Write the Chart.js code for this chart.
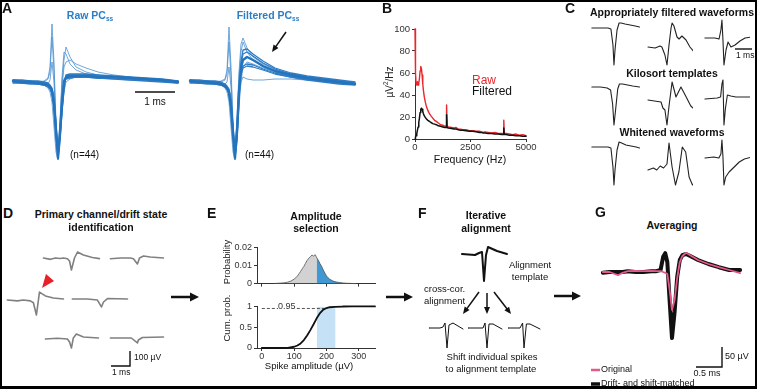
<!DOCTYPE html>
<html>
<head>
<meta charset="utf-8">
<script src="https://cdn.jsdelivr.net/npm/chart.js@4.4.1/dist/chart.umd.min.js"></script>
<style>
body { margin: 0; background: #fff; }
#fig { position: relative; width: 757px; height: 389px; overflow: hidden; background: #fff;
  font-family: "Liberation Sans", Arial, Helvetica, sans-serif; color: #111; }
#fig canvas { position: absolute; }
.t { position: absolute; white-space: nowrap; line-height: 1; }
#frame { position: absolute; left: 0; top: 0; width: 757px; height: 389px; box-sizing: border-box;
  border-style: solid; border-color: #000; border-width: 2px 2px 3px 2px; z-index: 10; }
#over { position: absolute; left: 0; top: 0; z-index: 5; }
</style>
</head>
<body>
<div id="fig">
  <svg id="over" width="757" height="389"></svg>
  <div id="frame"></div>
</div>
<script>
/* ======================================================================
DATA
====================================================================== */
// A: raw / filtered PC simple spikes (ms, amplitude in px-scaled units)
const aTime = [-1.125,-0.9,-0.7,-0.5,-0.35,-0.25,-0.2,-0.15,-0.1,-0.05,0,0.05,0.1,0.15,0.2,0.3,0.45,0.7,1.0,1.4,1.8,2.2,2.6,3.0];
const aRawMean = [1,0,0,-1,-2,-3,-5,-9,-22,-50,-76,-52,-22,0,5,6,6,6,5,5,4,3,2,0];
const aRawB1 = [2,1,1,0,-1,-2,-4,-7,-18,-45,-74,-55,-26,-3,6,7,7,7,6,5,4,3,2,1];
const aRawB2 = [0,-1,-1,-2,-3,-5,-7,-12,-27,-55,-73,-48,-18,1,3,4,5,5,4,4,3,2,1,-1];
const aRawB3 = [2,2,1,1,0,-1,-3,-6,-16,-40,-68,-56,-30,-8,7,8,8,8,7,6,5,4,3,1];
const aRawB4 = [-1,-1,-2,-2,-3,-4,-6,-11,-26,-53,-77,-50,-16,2,4,5,5,5,4,3,2,1,0,-1];
const aRaw1 = [1,0,0,0,1,4,15,58,20,-40,-70,-40,5,30,28,18,12,8,6,5,4,3,2,0];
const aRaw2 = [0,0,-1,-1,0,3,10,45,10,-45,-74,-48,0,22,35,25,15,10,7,5,4,3,1,0];
const aRaw3 = [2,1,0,0,-1,-2,2,20,0,-50,-66,-40,-5,15,20,22,18,14,10,7,5,3,2,1];
const aRaw4 = [0,-1,-1,-2,-3,-6,-10,-20,-45,-70,-78,-60,-30,-10,0,3,5,5,4,3,2,2,1,0];
const aFiltMean = [1,0,0,-1,-2,-4,-6,-10,-25,-52,-76,-50,-10,14,22,25,22,16,11,7,4,2,0,-2];
const aFiltB1 = [2,1,1,0,-1,-3,-5,-8,-20,-48,-74,-55,-15,18,28,30,26,19,13,8,5,3,1,-1];
const aFiltB2 = [0,-1,-1,-2,-3,-5,-7,-12,-28,-55,-73,-46,-8,10,16,18,17,13,9,5,3,1,-1,-2];
const aFiltB3 = [2,2,1,1,0,-2,-4,-7,-18,-44,-70,-56,-18,20,32,33,28,21,14,9,6,4,2,0];
const aFiltB4 = [-1,-1,-2,-2,-3,-5,-7,-12,-28,-56,-77,-48,-6,8,14,16,15,12,8,5,2,0,-2,-3];
const aFilt1 = [1,0,0,0,1,3,12,55,15,-40,-70,-35,10,38,44,34,25,18,12,8,5,3,1,-1];
const aFilt2 = [0,0,-1,-1,0,2,8,40,5,-45,-72,-45,5,30,40,30,22,15,10,6,4,2,0,-2];
const aFilt3 = [2,1,0,0,-1,-2,0,15,-5,-50,-66,-40,-12,0,5,3,2,2,3,3,2,1,0,-1];
const aFilt4 = [0,-1,-1,-2,-3,-6,-10,-20,-45,-70,-78,-60,-25,0,15,20,18,14,10,6,3,1,-1,-2];

// B: power spectrum
const bFreq = [0,15,30,50,80,110,140,170,200,230,260,290,320,350,380,420,470,520,580,650,720,800,880,960,1050,1150,1250,1350,1400,1415,1430,1445,1500,1650,1750,1850,1950,2050,2150,2300,2450,2600,2750,2900,3000,3050,3150,3300,3450,3600,3750,3900,3980,4000,4020,4100,4250,4400,4550,4700,4850,5000];
const bRaw  = [100,98,60,50,49,52,49,51,55,62,66,64,58,50,44,38,33,29,26,23,21,19,17,16,14.5,13,12.5,11.5,12,12,31,12,11,10.5,10,10.5,9,9,8.5,8.5,7.5,7.5,7,7,6.5,6,6.5,6,5.5,6,5,5,5,17,5,5,4.5,4,4.5,3.5,4,3];
const bFilt = [0,1,2,3,5,8,11,15,19,24,27,28,27,25,23,21,19.5,18,17,16,15,14,13.5,13,12,11.5,11,10.5,10.5,10.5,22,10.5,10,9.5,9,9,8.5,8,8,7.5,7,7,6.5,6,6,5.5,5.5,5,5,4.5,4.5,4,4,10,4,4,3.5,3.5,3,3,2.5,2.5];
const bXTicks = [0, 2500, 5000];
const bYTicks = [0, 20, 40, 60, 80, 100];

// C: example waveforms (ms, arbitrary units)
const c1t = [-1.3,-0.8,-0.35,-0.18,-0.06,0,0.06,0.18,0.3,0.42,0.65,0.95,1.25,1.5];
const c1v = [15,15,15,14,-2,-22,-7,13,20,20,19,18,17,16];
const c2t = [-1.12,-0.7,-0.41,-0.3,-0.12,0,0.12,0.24,0.3,0.41,0.59,0.71,0.88,1.12,1.35,1.65];
const c2v = [-4,-5,-3,-4,-12,-22,-2,15,20,17,6,4,7,3,-4,-10];
const c3t = [-1.12,-0.53,-0.29,-0.18,-0.12,-0.06,0,0.12,0.24,0.41,0.65,0.94,1.24,1.65];
const c3v = [5,5,4,13,23,3,-22,-7,1,-4,-2,2,5,6];
const c4t = [-1.3,-0.8,-0.4,-0.2,-0.08,0,0.1,0.22,0.32,0.5,0.8,1.1,1.5];
const c4v = [17,17,16,14,0,-21,-5,15,20,20,19,18,17];
const c5t = [-1.12,-0.35,-0.24,-0.12,0,0.12,0.3,0.53,0.82,1.1,1.4,1.65];
const c5v = [4,2,-4,-6,-21,-2,22,7,17,8,-2,-6];
const c6t = [-1.12,-0.4,-0.2,-0.12,-0.06,0,0.08,0.2,0.4,0.7,1.2,1.65];
const c6v = [5,6,7,20,24,-21,-5,9,8,7,7,7];
const c7t = [-1.3,-0.8,-0.35,-0.18,-0.06,0,0.06,0.18,0.3,0.45,0.7,1.0,1.3,1.5];
const c7v = [15,15,15,14,-5,-23,-8,12,20,19,17,16,15,14];
const c8t = [-1.12,-0.8,-0.6,-0.4,-0.2,0,0.12,0.3,0.5,0.7,0.9,1.1,1.3,1.5,1.65];
const c8v = [-8,-6,-8,-4,-6,-2,19,-5,-23,-10,15,10,-15,-23,-20];
const c9t = [-1.12,-0.6,-0.3,-0.18,-0.12,-0.06,0,0.1,0.3,0.6,0.9,1.2,1.65];
const c9v = [4,5,4,8,22,5,-23,-15,-10,-5,0,3,5];

// D: channel waveforms (ms, µV)
const dAt = [-1.47,-1.1,-0.84,-0.6,-0.42,-0.21,-0.1,0,0.16,0.32,0.63,1.1,1.47];
const dAv = [0,-9,0,-3,0,-5,-20,-80,0,40,20,3,-4];
const dBt = [-1.42,-0.89,-0.37,-0.21,0,0.11,0.32,0.68,1.37];
const dBv = [-5,0,0,-5,-40,0,13,7,0];
const dCt = [-1.53,-1.0,-0.68,-0.32,-0.16,0,0.16,0.47,0.89,1.42];
const dCv = [0,-6,0,-6,-18,-100,53,27,13,7];
const dDt = [-1.53,-0.74,-0.21,0,0.11,0.32,1.37];
const dDv = [0,0,-7,-53,-20,3,0];
const dEt = [-1.37,-0.74,-0.21,-0.1,0,0.1,0.26,0.63,1.42];
const dEv = [0,5,0,-20,-60,7,33,13,7];
const dFt = [-1.42,-0.32,0,0.05,0.26,1.37];
const dFv = [0,0,-33,-13,3,7];

// E: amplitude distribution
const eAmp  = [40,50,60,70,80,90,100,105,110,115,120,125,130,135,140,145,150,155,160,165,170,175,180,185,190,195,200,205,210,220,230,240,250,260,275,290];
const eProb = [0.0001,0.0002,0.0003,0.0005,0.0008,0.0014,0.0025,0.0032,0.0042,0.0055,0.0068,0.0082,0.0095,0.0112,0.0128,0.014,0.0148,0.0158,0.0152,0.016,0.0142,0.0128,0.011,0.0095,0.0075,0.0058,0.0042,0.0032,0.0024,0.0014,0.0009,0.0006,0.0004,0.0002,0.0001,0];
const eCdfAmp = [0,50,80,100,110,120,130,140,150,160,170,180,190,200,210,225,250,280,320,350];
const eCdf    = [0,0,0.005,0.03,0.06,0.11,0.19,0.3,0.43,0.57,0.72,0.84,0.92,0.96,0.98,0.99,0.997,1,1,1];
const eSel = [170, 228];
const eQuant = 0.95, eQuantAmp = 195;
const eXTicks = [0, 100, 200, 300];
const eProbTicks = [0, 0.01, 0.02];
const eCdfTicks = [0, 0.5, 1];

// F: alignment template and shifted spikes
const fTplT = [-1.1,-0.45,-0.25,-0.1,0,0.1,0.2,0.65,1.15];
const fTplV = [0,-1,1,2,-27,-1,7,3,0];
const fS1T = [-0.9,-0.35,-0.2,-0.1,0,0.1,0.3,0.8];
const fS1V = [0,0,1,5,-20,3,5,-1];
const fS2T = [-0.95,-0.2,-0.1,0,0.1,0.3,0.75];
const fS2V = [0,0,5,-20,4,4,-1];
const fS3T = [-0.8,-0.2,-0.07,0,0.12,0.3,0.8];
const fS3V = [0,0,5,-20,4,4,-1];

// G: averages (ms, µV)
const gTime  = [-1.33,-1.2,-1.1,-1.04,-0.95,-0.85,-0.7,-0.55,-0.4,-0.3,-0.22,-0.17,-0.13,-0.09,-0.05,0,0.05,0.1,0.15,0.2,0.27,0.35,0.5,0.7,0.9,1.1,1.31];
const gDrift = [-2,0,0,0,0,2,0,0,2,2,5,38,47,25,-62,-165,-100,-12,30,42,45,40,30,20,12,5,5];
const gOrig  = [0,0,-5,-8,-2,2,3,2,3,2,2,0,-2,-5,-40,-95,-70,-15,25,40,48,42,30,20,12,5,-3];

// scale bars
const aBarMs = 1, cBarMs = 1, dBarMs = 1, dBarUv = 100, gBarMs = 0.5, gBarUv = 50;

/* ======================================================================
Helpers
====================================================================== */
const FONT = '"Liberation Sans", Arial, Helvetica, sans-serif';
const fig = document.getElementById('fig');
const svg = document.getElementById('over');
const BLUE = '#2474bd', BLUE_M = '#2f7cc3', BLUE_T = '#4b90d2', RED = '#e8262b', PINK = '#e4588c';

function addCanvas(left, top, w, h) {
  const c = document.createElement('canvas');
  c.width = w; c.height = h;
  c.style.left = left + 'px'; c.style.top = top + 'px';
  c.style.width = w + 'px'; c.style.height = h + 'px';
  fig.insertBefore(c, svg);
  return c;
}
function pts(xs, ys) { return xs.map((x, i) => ({ x: x, y: ys[i] })); }
function trace(xs, ys, color, width) {
  return { data: pts(xs, ys), borderColor: color, borderWidth: width, pointRadius: 0,
    tension: 0, fill: false, clip: false, borderJoinStyle: 'round', borderCapStyle: 'round' };
}
const baseOpts = {
  responsive: false, animation: false, events: [],
  plugins: { legend: { display: false }, tooltip: { enabled: false } }
};
function waveChart(left, top, w, h, xr, yr, datasets) {
  const c = addCanvas(left, top, w, h);
  return new Chart(c, { type: 'line', data: { datasets: datasets },
    options: Object.assign({}, baseOpts, { layout: { padding: 0 },
      scales: { x: { type: 'linear', display: false, min: xr[0], max: xr[1] },
                y: { type: 'linear', display: false, min: yr[0], max: yr[1] } } }) });
}
// fixed-size axis for MATLAB-like panels
function axis(min, max, ticks, fitKey, fitVal, showLabels, size, pad) {
  return {
    type: 'linear', min: min, max: max,
    afterFit: s => { s[fitKey] = fitVal; },
    afterBuildTicks: s => { s.ticks = ticks.map(v => ({ value: v })); },
    ticks: { display: showLabels, font: { family: FONT, size: size }, color: '#333', padding: pad,
      maxRotation: 0, autoSkip: false, callback: v => String(v) },
    grid: { drawOnChartArea: false, drawTicks: true, tickLength: 3, color: '#333', lineWidth: 1 },
    border: { display: true, color: '#333', width: 1 }
  };
}
// L-shaped scale bar ending at corner (px); lengths in data units
function scaleBar(cx, cy, pxX, dx, pxY, dy) {
  const p = 3, w = dx * pxX + 2 * p, h = dy * pxY + 2 * p;
  const data = dy ? [{ x: -dx, y: 0 }, { x: 0, y: 0 }, { x: 0, y: dy }] : [{ x: -dx, y: 0 }, { x: 0, y: 0 }];
  waveChart(cx - dx * pxX - p, cy - dy * pxY - p, w, h,
    [-dx - p / pxX, p / pxX], [-p / pxY, dy + p / pxY],
    [{ data: data, borderColor: '#111', borderWidth: 1.4, pointRadius: 0, tension: 0, fill: false,
       clip: false, borderJoinStyle: 'miter', borderCapStyle: 'butt' }]);
}
function txt(s, x, base, size, o) {
  o = o || {};
  const d = document.createElement('div');
  d.className = 't';
  d.innerHTML = s;
  d.style.fontSize = size + 'px';
  d.style.top = (base - 0.846 * size) + 'px';
  d.style.left = x + 'px';
  if (o.bold) d.style.fontWeight = 'bold';
  if (o.color) d.style.color = o.color;
  if (o.bg) d.style.background = o.bg;
  if (o.center) d.style.transform = 'translateX(-50%)';
  fig.insertBefore(d, svg);
}
function vtxt(s, cx, cy, size) {
  const d = document.createElement('div');
  d.className = 't';
  d.innerHTML = s;
  d.style.fontSize = size + 'px';
  d.style.left = cx + 'px'; d.style.top = cy + 'px';
  d.style.color = '#222';
  d.style.transform = 'translate(-50%,-50%) rotate(-90deg)';
  fig.insertBefore(d, svg);
}
const NS = 'http://www.w3.org/2000/svg';
function svgEl(tag, attrs) {
  const e = document.createElementNS(NS, tag);
  for (const k in attrs) e.setAttribute(k, attrs[k]);
  svg.appendChild(e);
  return e;
}
function arrow(x1, y1, x2, y2, w, hl, hw) {
  const dx = x2 - x1, dy = y2 - y1, L = Math.hypot(dx, dy), ux = dx / L, uy = dy / L;
  const bx = x2 - ux * hl, by = y2 - uy * hl;
  svgEl('line', { x1: x1, y1: y1, x2: bx + ux, y2: by + uy, stroke: '#111', 'stroke-width': w });
  svgEl('polygon', { fill: '#111', points: [x2, y2, bx - uy * hw / 2, by + ux * hw / 2, bx + uy * hw / 2, by - ux * hw / 2].join(' ') });
}

/* ======================================================================
Panel A
====================================================================== */
function bundle(mean, near, extra) {
  const ds = [trace(aTime, mean, BLUE, 2.4)];
  near.forEach(v => ds.push(trace(aTime, v, BLUE_M, 1.3)));
  extra.forEach(v => ds.push(trace(aTime, v, BLUE_T, 0.8)));
  return ds;
}
waveChart(8, 10, 180, 160, [-1.25, 3.25], [-88, 72],
  bundle(aRawMean, [aRawB1, aRawB2, aRawB3, aRawB4], [aRaw1, aRaw2, aRaw3, aRaw4]));
waveChart(185, 10, 180, 160, [-1.25, 3.25], [-88, 72],
  bundle(aFiltMean, [aFiltB1, aFiltB2, aFiltB3, aFiltB4], [aFilt1, aFilt2, aFilt3, aFilt4]));
scaleBar(175, 92, 40, aBarMs, 1, 0);
const sub = '<span style="font-size:0.62em;position:relative;top:0.28em">ss</span>';
txt('A', 2, 13, 14, { bold: true });
txt('Raw PC' + sub, 90, 19, 10.5, { bold: true, color: '#2a7ec6', center: true });
txt('Filtered PC' + sub, 268, 19, 10.5, { bold: true, color: '#2a7ec6', center: true });
txt('(n=44)', 70, 158, 10);
txt('(n=44)', 245, 158, 10);
txt('1 ms', 155, 105, 10, { center: true });
arrow(286, 32, 272, 52, 1.5, 7, 6);

/* ======================================================================
Panel B
====================================================================== */
new Chart(addCanvas(385, 19, 156, 145), {
  type: 'line',
  data: { datasets: [trace(bFreq, bFilt, '#111', 1.5), trace(bFreq, bRaw, RED, 1.4)] },
  options: Object.assign({}, baseOpts, {
    layout: { padding: { top: 10, right: 15, left: 0, bottom: 0 } },
    scales: { x: axis(0, 5000, bXTicks, 'height', 25, true, 9.5, 0),
              y: axis(0, 100, bYTicks, 'width', 30, true, 9.5, 2) }
  })
});
txt('B', 382, 13, 14, { bold: true });
vtxt('\u00b5V<sup style="font-size:0.65em">2</sup>/Hz', 389, 82, 10);
txt('Raw', 472, 84, 12, { color: RED });
txt('Filtered', 472, 95, 12);
txt('Frequency (Hz)', 470, 163, 10.5, { center: true });

/* ======================================================================
Panel C
====================================================================== */
const cCols = [590, 643, 700], cRows = [18, 79, 137];
const cWaves = [[c1t, c1v], [c2t, c2v], [c3t, c3v], [c4t, c4v], [c5t, c5v], [c6t, c6v], [c7t, c7v], [c8t, c8v], [c9t, c9v]];
cWaves.forEach((w, i) => {
  waveChart(cCols[i % 3], cRows[Math.floor(i / 3)], 50, 50, [-1.41, 1.53], [-25, 25], [trace(w[0], w[1], '#222', 1.1)]);
});
scaleBar(752, 49, 17, cBarMs, 1, 0);
txt('C', 565, 13, 14, { bold: true });
txt('Appropriately filtered waveforms', 672, 16, 10.5, { bold: true, center: true });
txt('Kilosort templates', 672, 77, 10.5, { bold: true, center: true });
txt('Whitened waveforms', 672, 136, 10.5, { bold: true, center: true });
txt('1 ms', 736, 58, 8.5);

/* ======================================================================
Panel D
====================================================================== */
const dPos = [[41, 238], [107, 238], [6, 280], [71, 279], [41, 319], [107, 318]];
const dWaves = [[dAt, dAv], [dBt, dBv], [dCt, dCv], [dDt, dDv], [dEt, dEv], [dFt, dFv]];
dWaves.forEach((w, i) => {
  waveChart(dPos[i][0], dPos[i][1], 62, 40, [-1.6, 1.66], [-133.3, 133.3], [trace(w[0], w[1], '#808080', 1.6)]);
});
scaleBar(130, 366, 19, dBarMs, 0.15, dBarUv);
txt('D', 3, 218, 14, { bold: true });
txt('Primary channel/drift state', 101, 218, 10.5, { bold: true, center: true });
txt('identification', 101, 231, 10.5, { bold: true, center: true });
txt('100 \u00b5V', 134, 360, 8.5);
txt('1 ms', 112, 375, 8.5);
svgEl('polygon', { fill: '#e8202a', points: '42,288 46,274 54,281' });
arrow(171, 297, 199, 297, 2.5, 9, 9);

/* ======================================================================
Panel E
====================================================================== */
const eBlue = eAmp.map((a, i) => a >= eSel[0] ? eProb[i] : null);
new Chart(addCanvas(222, 240, 159, 51), {
  type: 'line',
  data: { datasets: [
    trace(eAmp, eProb, '#555', 0.8),
    Object.assign(trace(eAmp, eBlue, 'rgba(0,0,0,0)', 0), { fill: 'origin', backgroundColor: '#3d98d3', spanGaps: false }),
    Object.assign(trace(eAmp, eProb, 'rgba(0,0,0,0)', 0), { fill: 'origin', backgroundColor: '#d2d2d2' })
  ] },
  options: Object.assign({}, baseOpts, {
    layout: { padding: { top: 6, right: 6, left: 0, bottom: 0 } },
    scales: { x: axis(-15, 350, eXTicks, 'height', 4, false, 9, 0),
              y: axis(0, 0.02, eProbTicks, 'width', 35, true, 9, 2) }
  })
});
new Chart(addCanvas(222, 299, 159, 63), {
  type: 'line',
  data: { datasets: [
    trace(eCdfAmp, eCdf, '#111', 1.8),
    Object.assign(trace([0, eQuantAmp], [eQuant, eQuant], '#555', 1), { borderDash: [3, 2], borderCapStyle: 'butt' }),
    Object.assign(trace(eSel, [1, 1], 'rgba(0,0,0,0)', 0), { fill: 'origin', backgroundColor: '#c5e1f6' })
  ] },
  options: Object.assign({}, baseOpts, {
    layout: { padding: { top: 6, right: 6, left: 0, bottom: 0 } },
    scales: { x: axis(-15, 350, eXTicks, 'height', 14, true, 9, 0),
              y: axis(0, 1, eCdfTicks, 'width', 35, true, 9, 2) }
  })
});
txt('E', 207, 218, 14, { bold: true });
txt('Amplitude', 316, 220, 10.5, { bold: true, center: true });
txt('selection', 316, 232, 10.5, { bold: true, center: true });
vtxt('Probability', 227, 262, 9.5);
vtxt('Cum. prob.', 227, 318, 9.5);
txt('0.95', 278, 310, 9, { bg: '#fff', color: '#333' });
txt('Spike amplitude (\u00b5V)', 309, 369, 9.5, { center: true });
arrow(386, 297, 413, 297, 2.5, 9, 9);

/* ======================================================================
Panel F
====================================================================== */
waveChart(455, 240, 60, 45, [-1.45, 1.55], [-31, 14], [trace(fTplT, fTplV, '#111', 2)]);
[[427, fS1T, fS1V], [467, fS2T, fS2V], [504, fS3T, fS3V]].forEach(s => {
  waveChart(s[0], 315, 40, 36, [-1, 1], [-23, 13], [trace(s[1], s[2], '#111', 1)]);
});
txt('F', 418, 218, 14, { bold: true });
txt('Iterative', 486, 219, 10.5, { bold: true, center: true });
txt('alignment', 486, 232, 10.5, { bold: true, center: true });
txt('Alignment', 530, 268, 9.5, { center: true });
txt('template', 530, 280, 9.5, { center: true });
txt('cross-cor.', 424, 292, 9.5);
txt('alignment', 424, 304, 9.5);
txt('Shift individual spikes', 492, 360, 9.5, { center: true });
txt('to alignment template', 491, 372, 9.5, { center: true });
arrow(479, 292, 463, 314, 1.5, 7, 6);
arrow(487, 293, 487, 314, 1.5, 7, 6);
arrow(494, 292, 511, 314, 1.5, 7, 6);
arrow(554, 296, 581, 296, 2.5, 9, 9);

/* ======================================================================
Panel G
====================================================================== */
waveChart(598, 240, 147, 105, [-1.423, 1.404], [-182.5, 80],
  [trace(gTime, gOrig, PINK, 1.8), trace(gTime, gDrift, '#111', 4)]);
scaleBar(722, 367, 52, gBarMs, 0.4, gBarUv);
txt('G', 595, 217, 14, { bold: true });
txt('Averaging', 672, 229, 10.5, { bold: true, center: true });
txt('50 \u00b5V', 725, 360, 9);
txt('0.5 ms', 707, 377, 9, { center: true });
txt('Original', 601, 373, 9);
txt('Drift- and shift-matched', 601, 387, 9);
svgEl('line', { x1: 591, y1: 370, x2: 600, y2: 370, stroke: PINK, 'stroke-width': 2.5 });
svgEl('line', { x1: 591, y1: 384, x2: 600, y2: 384, stroke: '#111', 'stroke-width': 3.5 });
</script>
</body>
</html>
